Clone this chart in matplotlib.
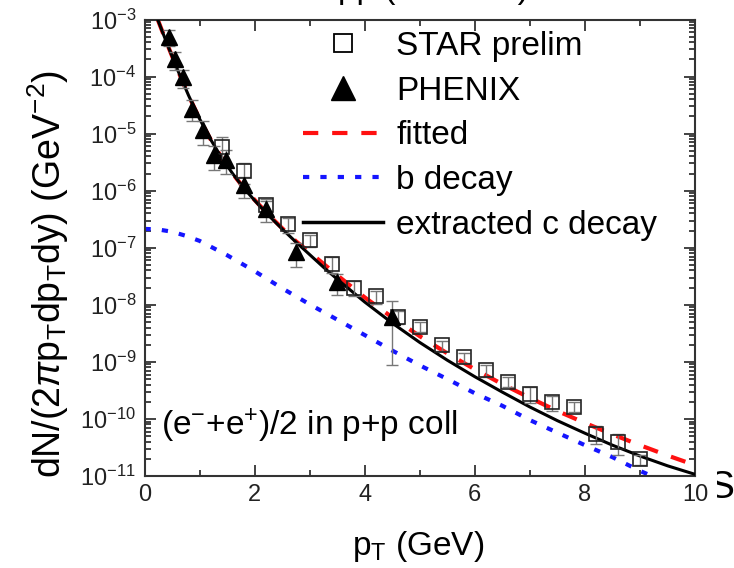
import numpy as np
import matplotlib
matplotlib.use('Agg')
import matplotlib.pyplot as plt
from matplotlib.lines import Line2D
from matplotlib.ticker import LogLocator, MultipleLocator, NullFormatter
from matplotlib.transforms import Bbox

plt.rcParams['font.family'] = ['Liberation Sans', 'DejaVu Sans']
plt.rcParams['mathtext.fontset'] = 'custom'
plt.rcParams['mathtext.rm'] = 'Liberation Sans'
plt.rcParams['mathtext.it'] = 'Liberation Sans:italic'
plt.rcParams['axes.unicode_minus'] = False
plt.rcParams['lines.scale_dashes'] = False

# STAR preliminary (open squares)
star_pt = [1.4, 1.8, 2.2, 2.6, 3.0, 3.4, 3.8, 4.2, 4.6, 5.0,
           5.4, 5.8, 6.2, 6.6, 7.0, 7.4, 7.8, 8.2, 8.6, 9.0]
star_y = [5.9e-6, 2.2e-6, 5.6e-7, 2.6e-7, 1.35e-7, 5.2e-8, 2.0e-8, 1.4e-8, 6.2e-9, 4.1e-9,
          1.95e-9, 1.2e-9, 7.1e-10, 4.5e-10, 2.75e-10, 1.95e-10, 1.65e-10, 5.5e-11, 3.9e-11, 1.95e-11]
star_rel_err = [0.45, 0.4, 0.3, 0.3, 0.25, 0.3, 0.3, 0.25, 0.25, 0.2,
                0.2, 0.2, 0.25, 0.2, 0.3, 0.3, 0.2, 0.35, 0.4, 0.2]

# PHENIX (filled triangles)
phenix_pt = [0.45, 0.55, 0.7, 0.87, 1.07, 1.27, 1.48, 1.8, 2.2, 2.75, 3.5, 4.5]
phenix_y = [5.0e-4, 2.0e-4, 9.8e-5, 2.75e-5, 1.15e-5, 4.2e-6, 3.5e-6, 1.25e-6,
            4.7e-7, 8.5e-8, 2.5e-8, 6.2e-9]
phenix_rel_err = [0.3, 0.35, 0.35, 0.4, 0.45, 0.45, 0.45, 0.4, 0.4, 0.45, 0.4, 0.86]

# extracted c decay (solid black)
c_pt = [0.24, 0.4, 0.6, 0.8, 1.0, 1.2, 1.4, 1.6, 1.8, 2.0, 2.25, 2.5, 2.75, 3.0, 3.25,
        3.5, 4.0, 4.5, 5.0, 5.5, 6.0, 6.5, 7.0, 7.5, 8.0, 8.5, 9.0, 9.5, 10.0]
c_y = [1.0e-3, 3.98e-4, 1.32e-4, 4.68e-5, 1.82e-5, 7.94e-6, 3.8e-6, 2.0e-6, 1.12e-6, 6.76e-7,
       3.72e-7, 2.14e-7, 1.26e-7, 7.59e-8, 4.57e-8, 2.82e-8, 1.12e-8, 4.79e-9, 2.19e-9, 1.07e-9,
       5.5e-10, 2.95e-10, 1.62e-10, 9.33e-11, 5.62e-11, 3.47e-11, 2.24e-11, 1.51e-11, 1.07e-11]

# fitted total (red dashed)
fit_pt = [0.24, 0.4, 0.6, 0.8, 1.0, 1.2, 1.4, 1.6, 1.8, 2.0, 2.25, 2.5, 2.75, 3.0,
          3.5, 4.0, 4.5, 5.0, 5.5, 6.0, 6.5, 7.0, 7.5, 8.0, 8.5, 9.0, 9.5, 10.0]
fit_y = [1.0e-3, 3.98e-4, 1.32e-4, 4.68e-5, 1.82e-5, 7.94e-6, 3.8e-6, 2.0e-6, 1.13e-6, 6.9e-7,
         3.8e-7, 2.2e-7, 1.3e-7, 8.32e-8, 3.31e-8, 1.35e-8, 6.03e-9, 2.82e-9, 1.41e-9, 7.41e-10,
         4.07e-10, 2.34e-10, 1.38e-10, 8.51e-11, 5.37e-11, 3.47e-11, 2.29e-11, 1.55e-11]

# b decay (blue dotted)
b_pt = [0.0, 0.25, 0.5, 0.75, 1.0, 1.5, 2.0, 2.5, 3.0, 3.5, 4.0, 4.5, 5.0,
        5.5, 6.0, 6.5, 7.0, 7.5, 8.0, 8.5, 9.0, 9.5]
b_y = [2.14e-7, 2.09e-7, 1.91e-7, 1.62e-7, 1.32e-7, 7.41e-8, 3.89e-8, 1.95e-8, 1.02e-8, 5.5e-9,
       2.95e-9, 1.58e-9, 8.7e-10, 5.0e-10, 2.82e-10, 1.7e-10, 9.55e-11, 5.75e-11, 3.47e-11,
       2.14e-11, 1.23e-11, 7.6e-12]

W, H = 734, 568
fig = plt.figure(figsize=(W / 100, H / 100), dpi=100)
ax = fig.add_axes([144.5 / W, 1 - 476 / H, (695 - 144.5) / W, (476 - 19.5) / H])

red_dash = (11, 10)
blue_dot = (4.5, 8)

ax.plot(b_pt, b_y, color='#1515ff', lw=3.0, dashes=blue_dot, zorder=2)
ax.plot(fit_pt, fit_y, color='#ff1010', lw=3.0, dashes=red_dash, zorder=2)
ax.plot(c_pt, c_y, color='black', lw=2.2, zorder=3)

star_y = np.array(star_y)
star_err = star_y * np.array(star_rel_err)
ax.errorbar(star_pt, star_y, yerr=star_err, fmt='none', ecolor='#777777',
            elinewidth=1.0, capsize=4, capthick=1.0, zorder=4)
ax.plot(star_pt, star_y, 's', ms=9.5, mfc='none', mec='#222222', mew=1.2, zorder=5)

phenix_y = np.array(phenix_y)
phenix_err = phenix_y * np.array(phenix_rel_err)
ax.errorbar(phenix_pt, phenix_y, yerr=phenix_err, fmt='none', ecolor='#777777',
            elinewidth=1.0, capsize=4, capthick=1.0, zorder=4)
ax.plot(phenix_pt, phenix_y, '^', ms=12, mfc='black', mec='black', zorder=6)

ax.set_yscale('log')
ax.set_xlim(0, 10)
ax.set_ylim(1e-11, 1e-3)
ax.xaxis.set_major_locator(MultipleLocator(2))
ax.xaxis.set_minor_locator(MultipleLocator(1))
ax.yaxis.set_major_locator(LogLocator(base=10, numticks=20))
ax.yaxis.set_minor_locator(LogLocator(base=10, subs=np.arange(2, 10), numticks=20))
ax.yaxis.set_minor_formatter(NullFormatter())
ax.tick_params(which='both', direction='in', top=True, right=True, width=1.2, colors='#222222')
ax.tick_params(which='major', length=8, labelsize=17, pad=6)
ax.tick_params(which='minor', length=4.5)
for s in ax.spines.values():
    s.set_linewidth(1.5)
    s.set_color('#333333')

fig.text(418 / W, 1 - 546 / H, r'p$_\mathregular{T}$ (GeV)', fontsize=24, ha='center', va='center')
fig.text(48 / W, 1 - 274 / H,
         r'dN/(2$\pi$p$_\mathregular{T}$dp$_\mathregular{T}$dy) (GeV$^\mathregular{-2}$)',
         fontsize=27, rotation=90, ha='center', va='center')

ax.text(0.03, 0.11, r'(e$^\mathregular{-}$+e$^\mathregular{+}$)/2 in p+p coll',
        transform=ax.transAxes, fontsize=24, ha='left', va='center')

handles = [
    Line2D([], [], ls='none', marker='s', ms=13, mfc='none', mec='black', mew=1.3),
    Line2D([], [], ls='none', marker='^', ms=17, mfc='black', mec='black'),
    Line2D([], [], color='#ff1010', lw=3.0, dashes=red_dash),
    Line2D([], [], color='#1515ff', lw=3.0, dashes=blue_dot),
    Line2D([], [], color='black', lw=2.5),
]
labels = ['STAR prelim', 'PHENIX', 'fitted', 'b decay', 'extracted c decay']
ax.legend(handles, labels, loc='upper left', bbox_to_anchor=(303 / W, 1 - 31 / H),
          bbox_transform=fig.transFigure, frameon=False, fontsize=24,
          handlelength=2.4, handletextpad=0.4, labelspacing=0.41,
          borderpad=0, borderaxespad=0)

# heading text partly above the top edge
fig.text(338 / W, 1 + 2 / H, 'pp (200GeV)', fontsize=24, ha='left', va='baseline')

# stray glyph at the right edge, only its right half shows
t = fig.text(708 / W, 1 - 488 / H, 'S', fontsize=28, ha='left', va='center')
t.set_clip_box(Bbox.from_extents(717, 0, W, H))
t.set_clip_on(True)

fig.savefig('out.png', dpi=100)
